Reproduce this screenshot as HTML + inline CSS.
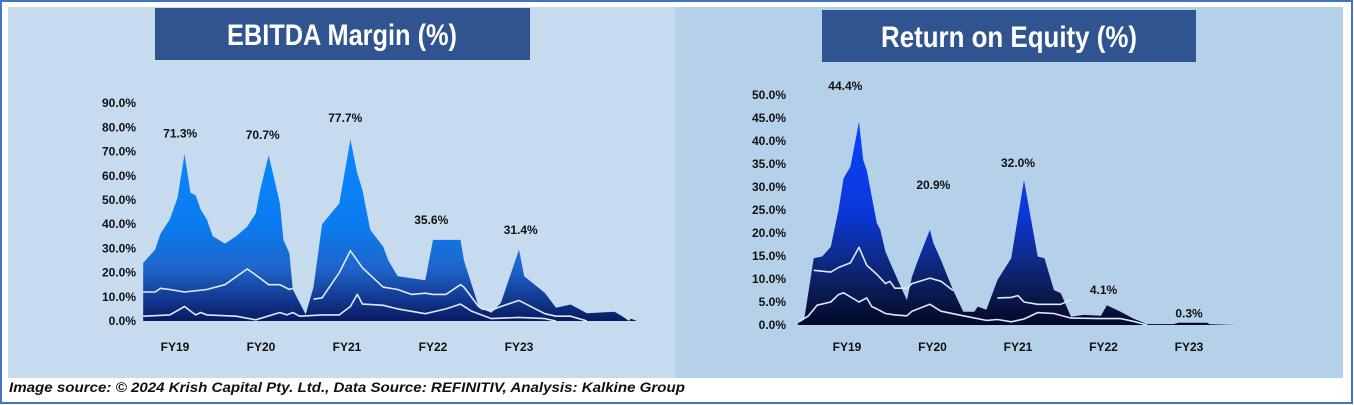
<!DOCTYPE html>
<html><head><meta charset="utf-8"><style>
html,body{margin:0;padding:0;background:#fff;}
svg{display:block;}
text{font-family:"Liberation Sans",sans-serif;}
</style></head><body>
<svg id="root" width="1354" height="405" viewBox="0 0 1354 405">
<defs>
<linearGradient id="gL" gradientUnits="userSpaceOnUse" x1="0" y1="130" x2="0" y2="321">
<stop offset="0" stop-color="#0a88ff"/><stop offset="0.5" stop-color="#0a7cf0"/><stop offset="0.72" stop-color="#1f66cc"/><stop offset="0.88" stop-color="#123a92"/><stop offset="1" stop-color="#081a62"/>
</linearGradient>
<linearGradient id="gR" gradientUnits="userSpaceOnUse" x1="0" y1="120" x2="0" y2="325">
<stop offset="0" stop-color="#0a44fa"/><stop offset="0.45" stop-color="#0a38da"/><stop offset="0.68" stop-color="#0e2a88"/><stop offset="0.85" stop-color="#0a1a50"/><stop offset="1" stop-color="#020828"/>
</linearGradient>
</defs>
<rect x="1" y="1" width="1351" height="402" fill="#fff" stroke="#4472c4" stroke-width="2"/>
<rect x="8" y="7" width="667" height="371" fill="#c6dbed"/>
<rect x="675" y="7" width="668" height="371" fill="#b5d1ea"/>
<rect x="155" y="8" width="375" height="52" fill="#2f5490"/>
<text x="342" y="45" text-anchor="middle" fill="#fff" font-size="30" font-weight="bold" textLength="230" lengthAdjust="spacingAndGlyphs">EBITDA Margin (%)</text>
<rect x="822" y="10" width="374" height="52" fill="#2f5490"/>
<text x="1009" y="47" text-anchor="middle" fill="#fff" font-size="30" font-weight="bold" textLength="256" lengthAdjust="spacingAndGlyphs">Return on Equity (%)</text>
<g id="left"></g><g id="right"></g>
<text x="9" y="392" font-size="14" font-weight="bold" font-style="italic" fill="#111" textLength="676" lengthAdjust="spacingAndGlyphs">Image source: © 2024 Krish Capital Pty. Ltd., Data Source: REFINITIV, Analysis: Kalkine Group</text>
</svg>
<script>
const categories = ["FY19","FY20","FY21","FY22","FY23"];
// EBITDA margin (%) - positions in fiscal-year units (FY19 = 0); null breaks a line
const ebitdaT = [-0.37,-0.23,-0.17,-0.06,0.03,0.11,0.18,0.24,0.30,0.37,0.44,0.58,0.71,0.84,0.94,0.99,1.09,1.22,1.26,1.33,1.37,1.52,1.61,1.71,1.91,2.04,2.12,2.18,2.27,2.42,2.48,2.59,2.91,3.00,3.32,3.36,3.53,3.57,3.68,3.79,4.00,4.06,4.30,4.43,4.60,4.79,5.11,5.20,5.28,5.30,5.37];
const ebitdaVals = [24,29.5,36,42,51,69,53,52,46,42,35,32,35,39,44.5,54,68.5,48.6,33.5,28,13,2.7,14,40,48.6,75,61,54,37.7,30.8,25,18.5,16.8,33.5,33.5,25,6,5,3.4,7.5,29.5,18.5,11.6,5.5,6.8,3.2,3.8,2,0,1,0];
const ebitdaMidT = [-0.37,-0.23,-0.17,-0.06,0.11,0.37,0.58,0.84,0.94,1.09,1.22,1.33,1.37,1.50,1.61,1.71,1.91,2.04,2.18,2.42,2.59,2.75,2.91,3.00,3.15,3.32,3.36,3.53,3.57,3.68,3.79,4.00,4.30,4.43,4.60,4.79];
const ebitdaMidVals = [12,12,13.5,13,12,13,15,21.5,19,15,15,13,13.5,null,9,9.6,20,29,22,14,13,11,11.5,11,11,15,14,6,5,4.5,6,8.5,3,2,2,0];
const ebitdaLowT = [-0.37,-0.06,0.11,0.24,0.30,0.37,0.71,0.94,1.22,1.30,1.37,1.45,1.71,1.91,2.04,2.12,2.18,2.42,2.59,2.91,3.15,3.32,3.45,3.68,4.00,4.30,4.43];
const ebitdaLowVals = [2,2.5,6,2.5,3.5,2.5,2,0.5,3.5,2.5,3.5,2,2.5,2.5,6,11,7,6.5,5,3,5,7,4,1,1.5,1,0];
const ebitdaTicks = [0,10,20,30,40,50,60,70,80,90];
const ebitdaLabels = ["71.3%","70.7%","77.7%","35.6%","31.4%"];
const ebitdaLabelVals = [71.3,70.7,77.7,35.6,31.4];
// Return on equity (%)
const roeT = [-0.58,-0.56,-0.50,-0.39,-0.29,-0.19,-0.10,-0.04,0.04,0.14,0.19,0.23,0.29,0.35,0.39,0.45,0.56,0.70,0.76,0.83,0.97,1.01,1.10,1.24,1.36,1.49,1.53,1.63,1.76,1.92,2.07,2.23,2.31,2.42,2.50,2.62,2.77,2.97,3.04,3.20,3.35,3.51,3.82,3.88,4.21,4.24,4.55];
const roeVals = [0,0.7,1.4,14.5,14.9,17,25,31.9,34.4,44.2,35.9,33.7,27.9,22.1,20.7,15.9,11.2,5.4,10.5,14.1,20.7,17.8,14.1,7.6,2.9,2.9,4,3.3,9.8,14.5,31.5,14.9,14.5,7.6,6.9,1.8,2.2,2,4.3,2.9,1.4,0.2,0.2,0.5,0.5,0.15,0];
const roeMidT = [-0.39,-0.19,-0.10,0.04,0.14,0.23,0.35,0.45,0.50,0.56,0.70,0.76,0.97,1.10,1.24,1.50,1.76,1.92,2.00,2.07,2.23,2.50,2.62];
const roeMidVals = [11.9,11.5,12.5,13.5,16.9,13,11,9,9.5,8,8,9,10.2,9.5,7.5,null,5.9,6,6.4,5,4.5,4.5,5.5];
const roeLowT = [-0.56,-0.45,-0.35,-0.19,-0.10,-0.04,0.14,0.23,0.29,0.35,0.45,0.56,0.70,0.76,0.97,1.10,1.36,1.63,1.76,1.92,2.07,2.23,2.42,2.62,2.97,3.20,3.35,3.51];
const roeLowVals = [0.7,2,4.3,5,6.6,7,5,5.9,4,3.5,2.5,2.2,2,3,4.5,3,2,1,1.2,0.7,1.3,2.7,2.5,1.5,1.4,1.4,0.8,0];
const roeTicks = [0,5,10,15,20,25,30,35,40,45,50];
const roeLabels = ["44.4%","20.9%","32.0%","4.1%","0.3%"];
const roeLabelVals = [44.4,20.9,32.0,4.1,0.3];

const NS="http://www.w3.org/2000/svg";
function mk(parent,tag,attrs){const e=document.createElementNS(NS,tag);for(const k in attrs)e.setAttribute(k,attrs[k]);parent.appendChild(e);return e;}

function drawChart(g,cfg){
  const xS=t=>cfg.x0+t*cfg.dx;
  const yS=v=>cfg.y0-v*cfg.py;
  cfg.ticks.forEach(v=>{
    const t=mk(g,'text',{x:cfg.tickX,y:yS(v)+4,'text-anchor':'end','font-size':12,'font-weight':'bold',fill:'#111'});
    t.textContent=v.toFixed(1)+'%';
    
    
  });
  let d='M'+xS(cfg.t[0])+','+yS(0);
  cfg.t.forEach((t,i)=>{d+=' L'+xS(t).toFixed(1)+','+yS(cfg.v[i]).toFixed(1);});
  d+=' L'+xS(cfg.t[cfg.t.length-1])+','+yS(0)+' Z';
  const a=mk(g,'path',{d:d,fill:cfg.fill});
  
  
  [[cfg.mt,cfg.mv,'mid-line'],[cfg.lt,cfg.lv,'low-line']].forEach(([ts,vs,nm])=>{
    let ld='';let pen=false;
    ts.forEach((t,i)=>{
      if(vs[i]===null){pen=false;return;}
      ld+=(pen?' L':' M')+xS(t).toFixed(1)+','+yS(vs[i]).toFixed(1);pen=true;
    });
    const l=mk(g,'path',{d:ld,fill:'none',stroke:'#dfe8f6','stroke-width':1.6,'stroke-linejoin':'round'});
    
    
  });
  categories.forEach((c,i)=>{
    const t=mk(g,'text',{x:xS(i),y:cfg.catY,'text-anchor':'middle','font-size':12,'font-weight':'bold',fill:'#111'});
    t.textContent=c;
    
    
  });
  cfg.labels.forEach((s,i)=>{
    const t=mk(g,'text',{x:xS(i+cfg.lOff[i]),y:yS(cfg.lVals[i])+cfg.lDy[i],'text-anchor':'middle','font-size':12,'font-weight':'bold',fill:'#111'});
    t.textContent=s;
    
    
  });
}
drawChart(document.getElementById('left'),{name:'ebitda',x0:175,dx:86,y0:321,py:2.42,tickX:136,catY:351,fill:'url(#gL)',
  t:ebitdaT,v:ebitdaVals,mt:ebitdaMidT,mv:ebitdaMidVals,lt:ebitdaLowT,lv:ebitdaLowVals,ticks:ebitdaTicks,
  labels:ebitdaLabels,lVals:ebitdaLabelVals,lOff:[0.06,0.02,-0.02,-0.02,0.02],lDy:[-11,-11,-11,-11,-11]});
drawChart(document.getElementById('right'),{name:'roe',x0:847,dx:85.5,y0:325,py:4.6,tickX:786,catY:351,fill:'url(#gR)',
  t:roeT,v:roeVals,mt:roeMidT,mv:roeMidVals,lt:roeLowT,lv:roeLowVals,ticks:roeTicks,
  labels:roeLabels,lVals:roeLabelVals,lOff:[-0.02,0.01,0,0,0],lDy:[-31,-40,-11,-12,-6]});
</script>
</body></html>
